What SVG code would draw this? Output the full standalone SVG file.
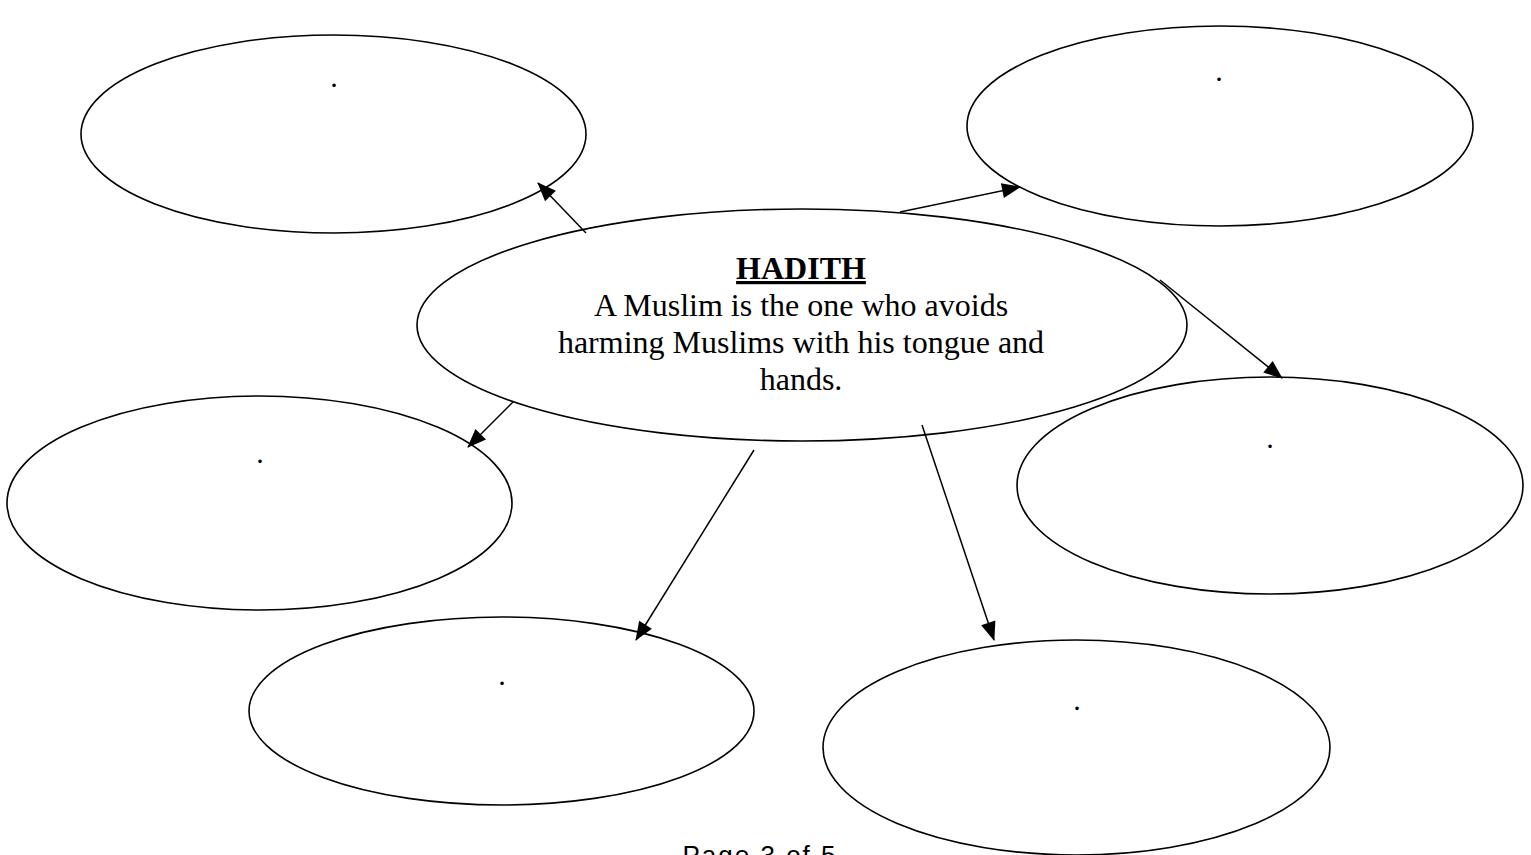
<svg xmlns="http://www.w3.org/2000/svg" width="1531" height="855" viewBox="0 0 1531 855">
<style>
.e{fill:none;stroke:#000;stroke-width:1.6}
.c{stroke:#000;stroke-width:1.5;fill:none}
.d{font-family:"Liberation Serif",serif;font-size:30px;fill:#000;text-anchor:middle}
.t{font-family:"Liberation Serif",serif;font-size:32px;fill:#000;text-anchor:middle}
</style>
<defs>
<marker id="ah" viewBox="0 0 19 15" refX="18" refY="7.5" markerWidth="19" markerHeight="15" markerUnits="userSpaceOnUse" orient="auto" overflow="visible">
<path d="M0,0 L19,7.5 L0,15 Z" fill="#000"/>
</marker>
</defs>
<rect width="1531" height="855" fill="#fff"/>
<g id="connectors">
<line class="c" x1="586" y1="233" x2="538" y2="183" marker-end="url(#ah)"/>
<line class="c" x1="900" y1="212" x2="1020" y2="187" marker-end="url(#ah)"/>
<line class="c" x1="1160" y1="280" x2="1282" y2="378" marker-end="url(#ah)"/>
<line class="c" x1="513" y1="402" x2="468" y2="447" marker-end="url(#ah)"/>
<line class="c" x1="754" y1="450" x2="636" y2="640" marker-end="url(#ah)"/>
<line class="c" x1="922" y1="425" x2="994" y2="640" marker-end="url(#ah)"/>
</g>
<g id="node-top-left">
<ellipse class="e" cx="333.5" cy="134" rx="252.5" ry="99"/>
<text class="d" x="334" y="87">.</text>
</g>
<g id="node-top-right">
<ellipse class="e" cx="1220" cy="126" rx="253" ry="100"/>
<text class="d" x="1219" y="81">.</text>
</g>
<g id="node-center">
<ellipse class="e" cx="802" cy="325" rx="385" ry="116"/>
<text class="t" x="801" y="279" font-weight="bold" text-decoration="underline">HADITH</text>
<text class="t" x="801" y="316">A Muslim is the one who avoids</text>
<text class="t" x="801" y="353">harming Muslims with his tongue and</text>
<text class="t" x="801" y="390">hands.</text>
</g>
<g id="node-mid-left">
<ellipse class="e" cx="259.5" cy="503" rx="252.5" ry="107"/>
<text class="d" x="260" y="463">.</text>
</g>
<g id="node-mid-right">
<ellipse class="e" cx="1270" cy="485.5" rx="253" ry="108.5"/>
<text class="d" x="1270" y="448">.</text>
</g>
<g id="node-bottom-left">
<ellipse class="e" cx="501.5" cy="711" rx="252.5" ry="94"/>
<text class="d" x="502" y="685">.</text>
</g>
<g id="node-bottom-right">
<ellipse class="e" cx="1076.5" cy="747.5" rx="253.5" ry="107.5"/>
<text class="d" x="1077" y="710">.</text>
</g>
<text x="760" y="864" font-family="'Liberation Sans',sans-serif" font-size="26" letter-spacing="2" fill="#000" text-anchor="middle">Page 3 of  5</text>
</svg>
